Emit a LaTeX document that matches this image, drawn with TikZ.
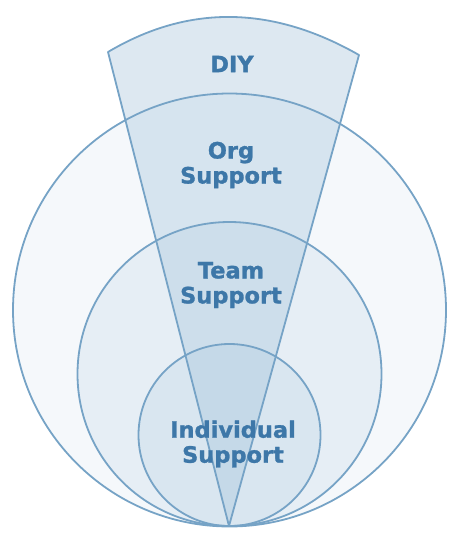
\documentclass[tikz,border=0pt]{standalone}
\usepackage{fontspec}
\setmainfont{DejaVu Sans}
\newfontfamily\heavyfont[FakeBold=1.2]{DejaVu Sans Bold}
\definecolor{strokeblue}{HTML}{76A3C6}
\definecolor{bigfill}{HTML}{F5F8FB}
\definecolor{midfill}{HTML}{E6EEF5}
\definecolor{smallfill}{HTML}{D9E6F0}
\definecolor{wedgefill}{HTML}{A9C6DD}
\definecolor{textblue}{HTML}{3D77A8}
\tikzset{
  ring/.style={draw=strokeblue, line width=1.8pt},
  lbl/.style={text=textblue, font=\heavyfont\fontsize{22.5}{25}\selectfont, align=center, inner sep=0pt}
}
\begin{document}
\begin{tikzpicture}[x=1pt,y=-1pt]
\useasboundingbox (0,0) rectangle (460,543);
% fills
\fill[bigfill] (229.5,310) circle (216.5pt);
\fill[midfill] (229.5,374) circle (152pt);
\fill[smallfill] (229.5,435) circle (91pt);
\fill[wedgefill, fill opacity=0.4] (229,526) -- (108,52) .. controls (188.3,4.3) and (272,5.3) .. (359,55) -- cycle;
% strokes
\draw[ring] (229.5,310) circle (216.5pt);
\draw[ring] (229.5,374) circle (152pt);
\draw[ring] (229.5,435) circle (91pt);
\draw[ring, line join=round] (229,526) -- (108,52) .. controls (188.3,4.3) and (272,5.3) .. (359,55) -- cycle;
% labels
\node[lbl] (diy) at (232,64) {DIY};
\node[lbl] (org) at (231,165) {Org\\Support};
\node[lbl] (team) at (231,285) {Team\\Support};
\node[lbl] (indiv) at (233,444) {Individual\\Support};
\end{tikzpicture}
\end{document}
